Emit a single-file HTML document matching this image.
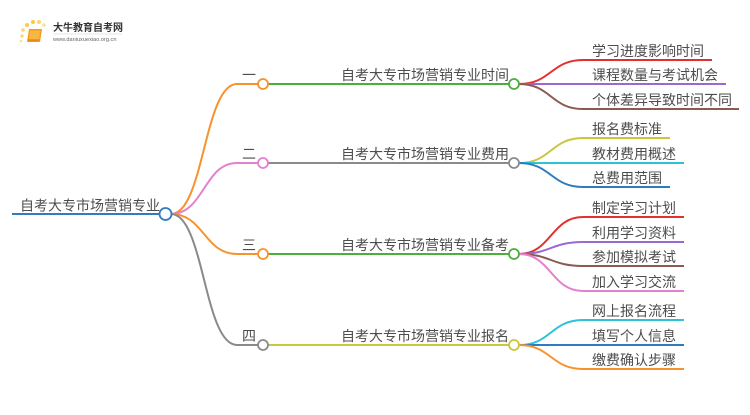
<!DOCTYPE html>
<html>
<head>
<meta charset="utf-8">
<style>
html,body{margin:0;padding:0;background:#fff;}
body{width:750px;height:410px;overflow:hidden;}
svg text{font-family:"Liberation Sans","Noto Sans CJK SC","WenQuanYi Zen Hei",sans-serif;}
</style>
</head>
<body>
<svg width="750" height="410" viewBox="0 0 750 410" xmlns="http://www.w3.org/2000/svg">
  <!-- Logo -->
  <g>
    <circle cx="22" cy="36" r="1.6" fill="#fbd56a"/>
    <circle cx="23" cy="30" r="1.8" fill="#fbd56a"/>
    <circle cx="27" cy="25" r="2" fill="#fcc94a"/>
    <circle cx="33" cy="22" r="2.1" fill="#fcc94a"/>
    <circle cx="39" cy="22" r="2" fill="#fbd56a"/>
    <circle cx="44" cy="25" r="1.7" fill="#fde08a"/>
    <circle cx="21" cy="41" r="1.3" fill="#fde08a"/>
    <path d="M29 29 L42 29 L40 42 L27 42 Z" fill="#f39a1e"/>
    <path d="M30 30.5 L40.5 30.5 L38.8 40.5 L28.5 40.5 Z" fill="#f8b740"/>
    <path d="M28 40 L39 40" stroke="#d9760c" stroke-width="1"/>
    <text x="53" y="31" font-size="10" fill="#333" font-weight="bold">大牛教育自考网</text>
    <line x1="53" y1="34" x2="122" y2="34" stroke="#ccc" stroke-width="0.6"/>
    <text x="53" y="41" font-size="5.6" fill="#666">www.daniuxuexiao.org.cn</text>
  </g>

  <g fill="none" stroke-width="2">
    <!-- root -->
    <line x1="12" y1="214" x2="160" y2="214" stroke="#2f7cc0"/>
    <!-- root to level1 -->
    <path d="M171 214 C204 214 204 84 237 84 L258 84" stroke="#f7922e"/>
    <path d="M171 214 C204 214 204 163 237 163 L258 163" stroke="#e57fd0"/>
    <path d="M171 214 C204 214 204 254 237 254 L258 254" stroke="#f7922e"/>
    <path d="M171 214 C204 214 204 345 237 345 L258 345" stroke="#8a8a8a"/>
    <!-- level1 to level2 -->
    <line x1="268" y1="84" x2="509" y2="84" stroke="#4caf3c"/>
    <line x1="268" y1="163" x2="509" y2="163" stroke="#8a8a8a"/>
    <line x1="268" y1="254" x2="509" y2="254" stroke="#4caf3c"/>
    <line x1="268" y1="345" x2="509" y2="345" stroke="#c9c73c"/>

    <!-- leaves group 1 -->
    <path d="M519 84 C551 84 551 60 583 60 L712 60" stroke="#e0312e"/>
    <path d="M519 84 L726 84" stroke="#9a68d2"/>
    <path d="M519 84 C551 84 551 109 583 109 L739 109" stroke="#8b5a50"/>
    <!-- leaves group 2 -->
    <path d="M519 163 C551 163 551 138 583 138 L670 138" stroke="#c9c73c"/>
    <path d="M519 163 L684 163" stroke="#2cc3d8"/>
    <path d="M519 163 C551 163 551 187 583 187 L670 187" stroke="#2e7cbf"/>
    <!-- leaves group 3 -->
    <path d="M519 254 C551 254 551 217 583 217 L684 217" stroke="#e0312e"/>
    <path d="M519 254 C551 254 551 242 583 242 L684 242" stroke="#9a68d2"/>
    <path d="M519 254 C551 254 551 266 583 266 L684 266" stroke="#8b5a50"/>
    <path d="M519 254 C551 254 551 291 583 291 L684 291" stroke="#e57fd0"/>
    <!-- leaves group 4 -->
    <path d="M519 345 C551 345 551 320 583 320 L684 320" stroke="#2cc3d8"/>
    <path d="M519 345 L684 345" stroke="#2e7cbf"/>
    <path d="M519 345 C551 345 551 369 583 369 L684 369" stroke="#f7922e"/>
  </g>

  <!-- circles -->
  <g fill="#fff" stroke-width="1.8">
    <circle cx="165.5" cy="214" r="6" stroke="#2f7cc0"/>
    <circle cx="263" cy="84" r="5" stroke="#f7922e"/>
    <circle cx="263" cy="163" r="5" stroke="#e57fd0"/>
    <circle cx="263" cy="254" r="5" stroke="#f7922e"/>
    <circle cx="263" cy="345" r="5" stroke="#8a8a8a"/>
    <circle cx="514" cy="84" r="5" stroke="#4caf3c"/>
    <circle cx="514" cy="163" r="5" stroke="#8a8a8a"/>
    <circle cx="514" cy="254" r="5" stroke="#4caf3c"/>
    <circle cx="514" cy="345" r="5" stroke="#c9c73c"/>
  </g>

  <!-- text -->
  <g font-size="14" fill="#4d4d4d">
    <text x="20" y="210.5">自考大专市场营销专业</text>

    <text x="242" y="80">一</text>
    <text x="242" y="159">二</text>
    <text x="242" y="250">三</text>
    <text x="242" y="341">四</text>

    <text x="341" y="80">自考大专市场营销专业时间</text>
    <text x="341" y="159">自考大专市场营销专业费用</text>
    <text x="341" y="250">自考大专市场营销专业备考</text>
    <text x="341" y="341">自考大专市场营销专业报名</text>

    <text x="592" y="56">学习进度影响时间</text>
    <text x="592" y="80">课程数量与考试机会</text>
    <text x="592" y="105">个体差异导致时间不同</text>

    <text x="592" y="134">报名费标准</text>
    <text x="592" y="159">教材费用概述</text>
    <text x="592" y="183">总费用范围</text>

    <text x="592" y="213">制定学习计划</text>
    <text x="592" y="238">利用学习资料</text>
    <text x="592" y="262">参加模拟考试</text>
    <text x="592" y="287">加入学习交流</text>

    <text x="592" y="316">网上报名流程</text>
    <text x="592" y="341">填写个人信息</text>
    <text x="592" y="365">缴费确认步骤</text>
  </g>
</svg>
</body>
</html>
